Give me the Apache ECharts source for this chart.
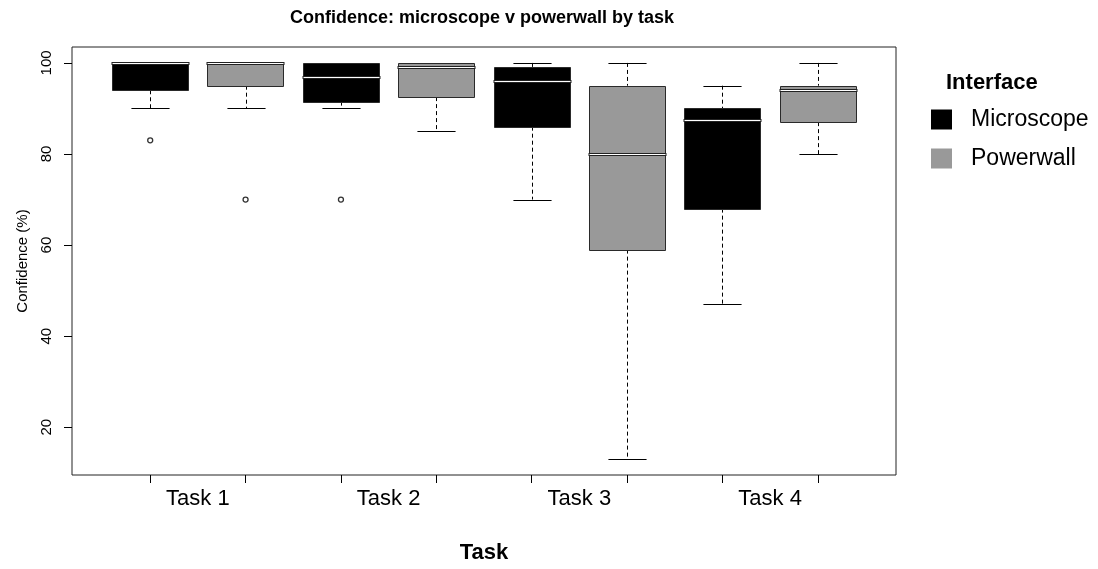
<!DOCTYPE html>
<html>
<head>
<meta charset="utf-8">
<script src="https://cdn.jsdelivr.net/npm/echarts@6/dist/echarts.min.js"></script>
<style>
html,body{margin:0;padding:0;background:#fff;}
#chart{width:1098px;height:569px;}
</style>
</head>
<body>
<div id="chart"></div>
<script>
// ---- data ----
const tasks = ['Task 1', 'Task 2', 'Task 3', 'Task 4'];
const interfaces = ['Microscope', 'Powerwall'];
// [lower whisker, Q1, median, Q3, upper whisker] per task
const microscopeStats = [
  [90, 94, 100, 100, 100],
  [90, 91.5, 97, 100, 100],
  [70, 86, 96, 99, 100],
  [47, 68, 87.5, 90, 95]
];
const powerwallStats = [
  [90, 95, 100, 100, 100],
  [85, 92.5, 99, 100, 100],
  [13, 59, 80, 95, 100],
  [80, 87, 94, 95, 100]
];
// outliers: [task index, value]
const microscopeOutliers = [[0, 83], [1, 70]];
const powerwallOutliers = [[0, 70]];
const yTicks = [20, 40, 60, 80, 100];

const colors = ['#000000', '#999999'];

function pos(taskIdx, ifaceIdx) { return 2 * taskIdx + ifaceIdx + 1; }

function boxData(stats, ifaceIdx) {
  return stats.map((s, i) => [pos(i, ifaceIdx)].concat(s));
}
function outlierData(list, ifaceIdx) {
  return list.map(o => [pos(o[0], ifaceIdx), o[1]]);
}

function crisp(v) { return Math.round(v) + 0.5; }

function makeRender(fill) {
  return function (params, api) {
    const x = api.value(0);
    const lo = api.coord([x, api.value(1)]);
    const q1 = api.coord([x, api.value(2)]);
    const md = api.coord([x, api.value(3)]);
    const q3 = api.coord([x, api.value(4)]);
    const hi = api.coord([x, api.value(5)]);
    const unit = api.size([1, 0])[0];
    const bw = unit * 0.8;
    const cw = bw * 0.5;
    const cx = crisp(lo[0]);
    const dash = { stroke: '#000', lineWidth: 1, lineDash: [4, 3] };
    const solid = { stroke: '#000', lineWidth: 1 };
    const children = [];
    if (hi[1] < q3[1] - 0.5) {
      children.push({ type: 'line', shape: { x1: cx, y1: hi[1], x2: cx, y2: q3[1] }, style: dash });
    }
    children.push({ type: 'line', shape: { x1: cx - cw / 2, y1: crisp(hi[1]), x2: cx + cw / 2, y2: crisp(hi[1]) }, style: solid });
    if (lo[1] > q1[1] + 0.5) {
      children.push({ type: 'line', shape: { x1: cx, y1: q1[1], x2: cx, y2: lo[1] }, style: dash });
    }
    children.push({ type: 'line', shape: { x1: cx - cw / 2, y1: crisp(lo[1]), x2: cx + cw / 2, y2: crisp(lo[1]) }, style: solid });
    const left = Math.round(lo[0] - bw / 2) + 0.5;
    const top = Math.round(q3[1]) + 0.5;
    const bottom = Math.round(q1[1]) + 0.5;
    children.push({
      type: 'rect',
      shape: { x: left, y: top, width: Math.round(bw), height: Math.max(bottom - top, 1) },
      style: { fill: fill, stroke: '#2a2a2a', lineWidth: 1 }
    });
    const my = Math.round(md[1]);
    children.push({ type: 'line', shape: { x1: left - 1, y1: my + 0.5, x2: left + Math.round(bw) + 1, y2: my + 0.5 }, style: { stroke: '#222', lineWidth: 3 } });
    children.push({ type: 'line', shape: { x1: left, y1: my + 0.5, x2: left + Math.round(bw), y2: my + 0.5 }, style: { stroke: '#fff', lineWidth: 1 } });
    return { type: 'group', children: children };
  };
}

const chart = echarts.init(document.getElementById('chart'), null, { renderer: 'canvas' });

const option = {
  animation: false,
  color: colors,
  title: [
    {
      text: 'Confidence: microscope v powerwall by task',
      left: 290, top: 9, padding: 0,
      textStyle: { fontFamily: 'Liberation Sans, Arial, sans-serif', fontSize: 18, fontWeight: 'bold', color: '#000' }
    },
    {
      text: 'Interface',
      left: 946, top: 72, padding: 0,
      textStyle: { fontFamily: 'Liberation Sans, Arial, sans-serif', fontSize: 22, fontWeight: 'bold', color: '#000' }
    }
  ],
  legend: {
    data: interfaces,
    orient: 'vertical',
    left: 931, top: 108,
    padding: 0,
    itemGap: 16,
    itemWidth: 21, itemHeight: 20,
    icon: 'rect',
    textStyle: { fontFamily: 'Liberation Sans, Arial, sans-serif', fontSize: 23, color: '#000', padding: [0, 0, 0, 14] }
  },
  grid: {
    left: 72, top: 47, right: 202, bottom: 87,
    show: true, borderColor: '#222', borderWidth: 1, backgroundColor: 'transparent',
    containLabel: false
  },
  xAxis: {
    type: 'value',
    min: 0.18, max: 8.82,
    splitLine: { show: false },
    axisLine: { show: false },
    axisTick: { show: true, length: 8, lineStyle: { color: '#000' }, customValues: [1, 2, 3, 4, 5, 6, 7, 8] },
    axisLabel: {
      customValues: [1.5, 3.5, 5.5, 7.5],
      formatter: function (v) { return tasks[Math.round((v - 1.5) / 2)]; },
      fontFamily: 'Liberation Sans, Arial, sans-serif',
      fontSize: 22, color: '#000', margin: 13
    },
    name: 'Task',
    nameLocation: 'middle',
    nameGap: 67,
    nameTextStyle: { fontFamily: 'Liberation Sans, Arial, sans-serif', fontSize: 22, fontWeight: 'bold', color: '#000' }
  },
  yAxis: {
    type: 'value',
    min: 9.5, max: 103.5,
    splitLine: { show: false },
    axisLine: { show: false },
    axisTick: { show: true, length: 8, lineStyle: { color: '#000' }, customValues: yTicks },
    axisLabel: {
      customValues: yTicks,
      rotate: 90,
      fontFamily: 'Liberation Sans, Arial, sans-serif',
      fontSize: 15, color: '#000', margin: 18
    },
    name: 'Confidence (%)',
    nameLocation: 'middle',
    nameRotate: 90,
    nameGap: 42,
    nameTextStyle: { fontFamily: 'Liberation Sans, Arial, sans-serif', fontSize: 15, color: '#000' }
  },
  series: [
    {
      name: 'Microscope', type: 'custom',
      itemStyle: { color: colors[0] },
      renderItem: makeRender(colors[0]),
      encode: { x: 0, y: [1, 2, 3, 4, 5] },
      data: boxData(microscopeStats, 0),
      z: 2
    },
    {
      name: 'Powerwall', type: 'custom',
      itemStyle: { color: colors[1] },
      renderItem: makeRender(colors[1]),
      encode: { x: 0, y: [1, 2, 3, 4, 5] },
      data: boxData(powerwallStats, 1),
      z: 2
    },
    {
      name: 'Microscope outliers', type: 'scatter',
      symbol: 'circle', symbolSize: 5,
      itemStyle: { color: '#fff', borderColor: '#000', borderWidth: 1.3 },
      data: outlierData(microscopeOutliers, 0),
      z: 3
    },
    {
      name: 'Powerwall outliers', type: 'scatter',
      symbol: 'circle', symbolSize: 5,
      itemStyle: { color: '#fff', borderColor: '#000', borderWidth: 1.3 },
      data: outlierData(powerwallOutliers, 1),
      z: 3
    }
  ]
};
chart.setOption(option);
</script>
</body>
</html>
